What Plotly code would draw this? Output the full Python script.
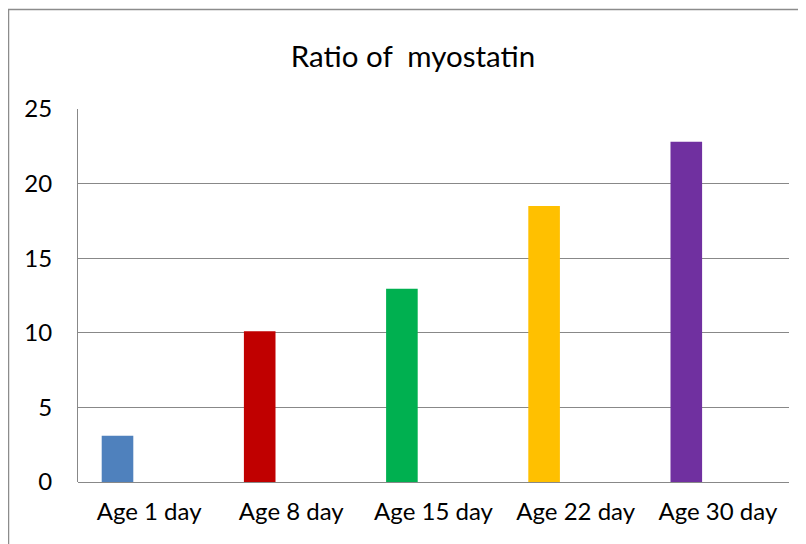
import plotly.graph_objects as go

categories = ["Age 1 day", "Age 8 day", "Age 15 day", "Age 22 day", "Age 30 day"]
values = [3.1, 10.1, 12.95, 18.5, 22.8]
colors = ["#4F81BD", "#C00000", "#00B050", "#FFC000", "#7030A0"]
y_ticks = [0, 5, 10, 15, 20, 25]

FONT = "Lato"

fig = go.Figure()
fig.add_trace(go.Bar(
    x=categories, y=values,
    marker=dict(color=colors, line=dict(width=0)),
    width=2/9, offset=-1/3,
    showlegend=False,
))

W, H = 806, 544
L, R, T, B = 70, 25, 101, 70
pw = W - L - R
ph = H - T - B

fig.update_layout(
    width=W, height=H,
    margin=dict(l=L, r=R, t=T, b=B),
    paper_bgcolor="white", plot_bgcolor="white",
    title=dict(text="Ratio of  myostatin", x=405/W, xref="container", xanchor="center",
               y=1 - 49/H, yref="container", yanchor="middle",
               font=dict(family=FONT, size=29.5, color="#000000")),
    font=dict(family=FONT, color="#000000"),
    xaxis=dict(
        type="category", showgrid=False, showline=False, zeroline=False,
        ticks="", tickfont=dict(size=24, color="#000000"),
        ticklabelstandoff=13,
    ),
    yaxis=dict(
        range=[0, 25], tickvals=y_ticks, showgrid=True, gridcolor="#888888", gridwidth=1,
        showline=True, linecolor="#888888", linewidth=1,
        zeroline=True, zerolinecolor="#888888", zerolinewidth=1,
        ticks="", tickfont=dict(size=24, color="#000000"),
        ticklabelstandoff=20,
    ),
    shapes=[
        dict(type="rect", xref="paper", yref="paper",
             x0=(0.5 - L) / pw, x1=(830 - L) / pw,
             y0=-(580 - (H - B)) / ph, y1=1 + (T - 1.5) / ph,
             line=dict(color="#8C8C8C", width=1.5), fillcolor="rgba(0,0,0,0)", layer="below"),
    ],
)

fig.write_html("out.html")
